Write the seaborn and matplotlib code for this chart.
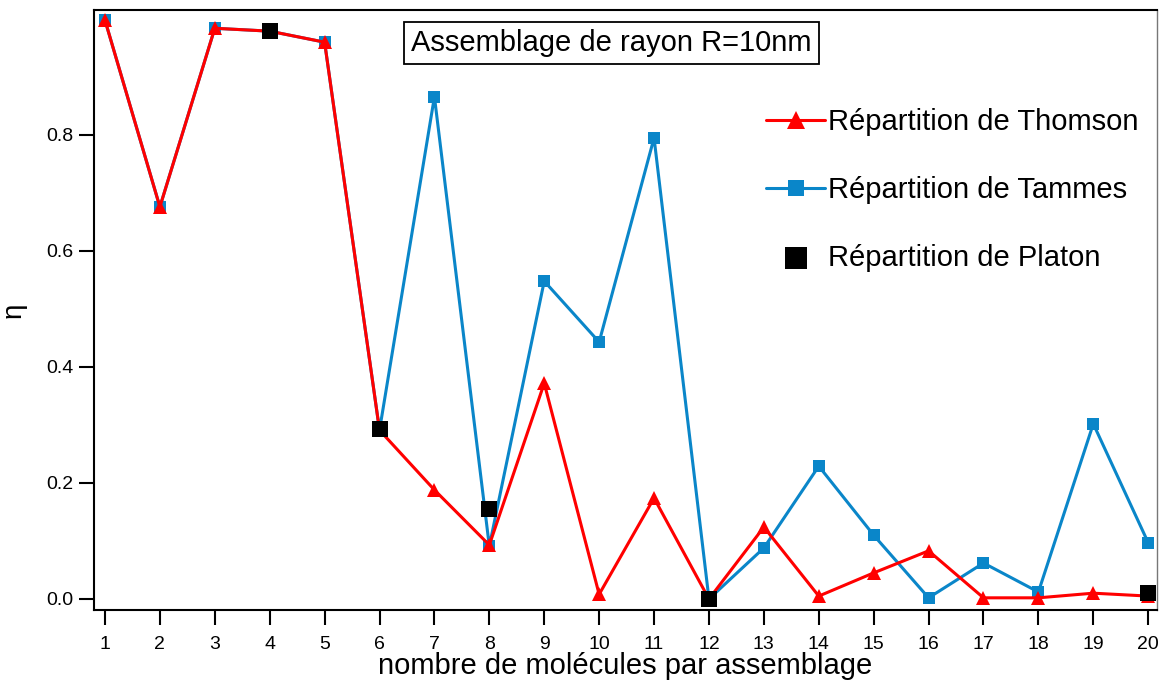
import matplotlib
matplotlib.use("Agg")
import matplotlib.pyplot as plt
import seaborn as sns
import pandas as pd

# Number of molecules per assembly
n_molecules = list(range(1, 21))

# Efficiency eta for each distribution
thomson = [0.998, 0.676, 0.984, 0.979, 0.960, 0.291, 0.188, 0.093, 0.372, 0.008,
           0.174, 0.000, 0.124, 0.005, 0.045, 0.083, 0.002, 0.002, 0.010, 0.005]
tammes = [0.998, 0.676, 0.984, 0.979, 0.960, 0.291, 0.866, 0.091, 0.548, 0.443,
          0.795, 0.000, 0.088, 0.229, 0.110, 0.002, 0.062, 0.012, 0.302, 0.097]
platon_n = [4, 6, 8, 12, 20]
platon = [0.979, 0.293, 0.155, 0.000, 0.010]

labels = ["Répartition de Thomson", "Répartition de Tammes", "Répartition de Platon"]
title_text = "Assemblage de rayon R=10nm"
xlabel = "nombre de molécules par assemblage"
ylabel = "η"

sns.set_theme(style="ticks")
plt.rcParams["font.family"] = ["Liberation Sans", "DejaVu Sans"]
plt.rcParams["text.color"] = "black"
plt.rcParams["axes.labelcolor"] = "black"
plt.rcParams["xtick.color"] = "black"
plt.rcParams["ytick.color"] = "black"

df_thomson = pd.DataFrame({"n": n_molecules, "eta": thomson})
df_tammes = pd.DataFrame({"n": n_molecules, "eta": tammes})
df_platon = pd.DataFrame({"n": platon_n, "eta": platon})

red = "#ff0000"
blue = "#0a86c9"

fig = plt.figure(figsize=(11.59, 6.84), dpi=100)
ax = fig.add_axes([94 / 1159, 1 - 610 / 684, (1157 - 94) / 1159, (610 - 10) / 684])

sns.lineplot(data=df_tammes, x="n", y="eta", ax=ax, color=blue, lw=2.2,
             marker="s", markersize=9, markeredgewidth=0, label=labels[1], zorder=2)
sns.lineplot(data=df_thomson, x="n", y="eta", ax=ax, color=red, lw=2.2,
             marker="^", markersize=10, markeredgewidth=0, label=labels[0], zorder=3)
sns.scatterplot(data=df_platon, x="n", y="eta", ax=ax, color="black", marker="s",
                s=140, linewidth=0, label=labels[2], zorder=4)

ax.set_xlim(0.8, 20.16)
ax.set_ylim(-0.019, 1.0155)
ax.set_xticks(n_molecules)
ax.set_yticks([0.0, 0.2, 0.4, 0.6, 0.8])
ax.set_yticklabels(["0.0", "0.2", "0.4", "0.6", "0.8"])

for side in ["top", "right", "left", "bottom"]:
    ax.spines[side].set_visible(True)
    ax.spines[side].set_color("black")
    ax.spines[side].set_linewidth(1.5)
ax.spines["right"].set_color("#777777")
ax.spines["right"].set_linewidth(1.0)

ax.tick_params(axis="both", direction="out", length=11, width=1.5,
               labelsize=14, colors="black")
ax.tick_params(axis="y", pad=4)
ax.tick_params(axis="x", pad=8)

ax.set_xlabel(xlabel, fontsize=21, labelpad=-1)
ax.set_ylabel(ylabel, fontsize=20, labelpad=14)

ax.text(0.487, 0.945, title_text, transform=ax.transAxes, ha="center", va="center",
        fontsize=21, bbox=dict(boxstyle="square,pad=0.25", fc="white", ec="black", lw=1.3))

handles, lbls = ax.get_legend_handles_labels()
order = [lbls.index(l) for l in labels]
leg = ax.legend([handles[i] for i in order], [lbls[i] for i in order],
                loc="upper right", bbox_to_anchor=(1.007, 0.88), frameon=False,
                fontsize=21, labelspacing=1.36, handlelength=2.0, handletextpad=0.1,
                markerscale=1.3)

fig.savefig("out.png", dpi=100)
